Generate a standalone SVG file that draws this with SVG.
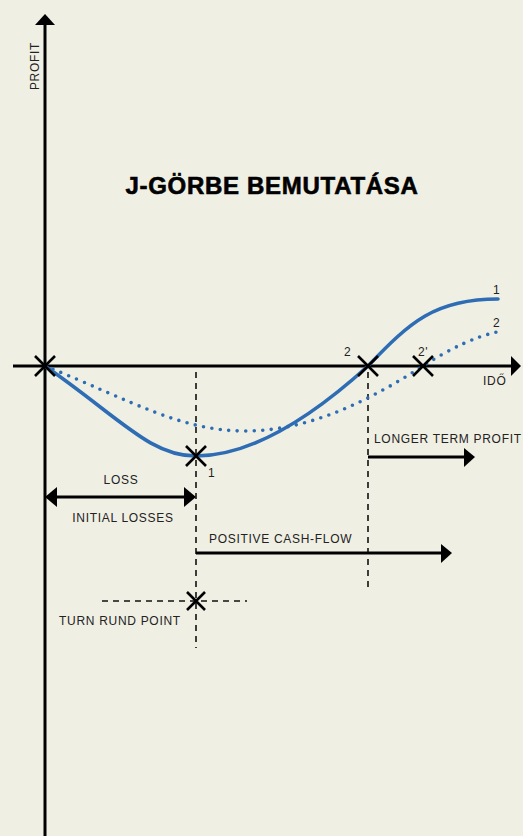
<svg xmlns="http://www.w3.org/2000/svg" width="523" height="836" viewBox="0 0 523 836">
<style>
.axis{stroke:#000;stroke-width:3;fill:none}
.dash{stroke:#111;stroke-width:1.6;stroke-dasharray:6 5;fill:none}
.arr{stroke:#000;stroke-width:3;fill:none}
.head{fill:#000}
.cross{stroke:#000;stroke-width:2.6;fill:none}
.c1{stroke:#2e6db4;stroke-width:3.6;fill:none;stroke-linecap:round}
.c2{stroke:#2e6db4;stroke-width:3.6;fill:none;stroke-linecap:round;stroke-dasharray:0 8.5}
.lbl{font-family:"Liberation Sans",Arial,sans-serif;font-size:12px;fill:#222;letter-spacing:0.7px}
.title{font-family:"Liberation Sans",Arial,sans-serif;font-size:24px;font-weight:bold;fill:#000;stroke:#000;stroke-width:0.6;letter-spacing:0.7px}
</style>
<rect width="523" height="836" fill="#f0efe4"/>
<g id="axes">
<line class="axis" x1="45" y1="22" x2="45" y2="836"/>
<polygon class="head" points="45,14 35,25 55,25"/>
<line class="axis" x1="13" y1="366" x2="513" y2="366"/>
<polygon class="head" points="521,366 511,356 511,376"/>
<text class="lbl" transform="translate(39,66) rotate(-90)" text-anchor="middle">PROFIT</text>
<text class="lbl" x="483" y="385">IDŐ</text>
</g>
<g id="title"><text class="title" x="272" y="194" text-anchor="middle">J-GÖRBE BEMUTATÁSA</text></g>
<g id="guides">
<line class="dash" x1="196" y1="372" x2="196" y2="648"/>
<line class="dash" x1="368" y1="372" x2="368" y2="587"/>
<line class="dash" x1="102" y1="601" x2="247" y2="601"/>
</g>
<g id="curve2"><path class="c2" d="M45,366 C130,400 180,431 245,431 C310,431 370,400 423,366 C453,347 475,337 497,332"/><text class="lbl" x="493" y="327">2</text></g>
<g id="curve1"><path class="c1" d="M45,366 C120,418 150,456 196,456 C260,456 325,405 368,366 C410,322 435,299 498,299"/><text class="lbl" x="493" y="294">1</text></g>
<g id="connectors">
<line class="arr" x1="55" y1="497" x2="186" y2="497"/>
<polygon class="head" points="45,497 57,487 57,507"/>
<polygon class="head" points="196,497 184,487 184,507"/>
<line class="arr" x1="196" y1="553" x2="443" y2="553"/>
<polygon class="head" points="452,553 441,544 441,563"/>
<line class="arr" x1="368" y1="457" x2="466" y2="457"/>
<polygon class="head" points="475,457 464,448 464,467"/>
</g>
<g id="points">
<path class="cross" d="M35,356 L55,376 M55,356 L35,376"/>
<path class="cross" d="M186,446 L206,466 M206,446 L186,466"/>
<path class="cross" d="M358,356 L378,376 M378,356 L358,376"/>
<path class="cross" d="M413,356 L433,376 M433,356 L413,376"/>
<path class="cross" d="M187,592 L205,610 M205,592 L187,610"/>
<text class="lbl" x="344" y="356">2</text>
<text class="lbl" x="418" y="356">2'</text>
<text class="lbl" x="208" y="477">1</text>
</g>
<g id="labels">
<text class="lbl" x="121" y="484" text-anchor="middle">LOSS</text>
<text class="lbl" x="123" y="522" text-anchor="middle">INITIAL LOSSES</text>
<text class="lbl" x="209" y="543">POSITIVE CASH-FLOW</text>
<text class="lbl" x="374" y="443">LONGER TERM PROFIT</text>
<text class="lbl" x="59" y="625">TURN RUND POINT</text>
</g>
</svg>
